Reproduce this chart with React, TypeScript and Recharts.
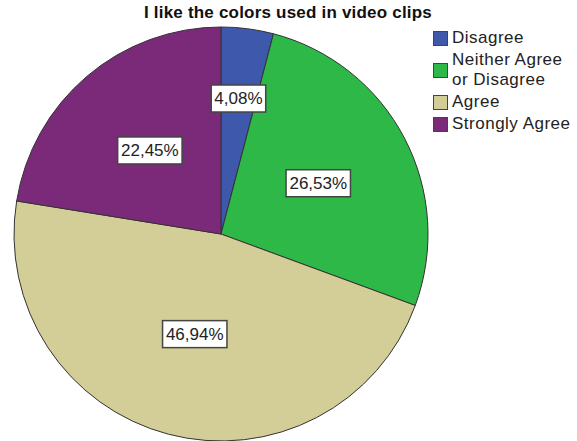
import { PieChart, Pie, Cell, Legend } from "recharts";

const categories = ["Disagree", "Neither Agree\nor Disagree", "Agree", "Strongly Agree"];
const percents = [4.08, 26.53, 46.94, 22.45];
const colors = ["#3e58ac", "#2eb848", "#d3ce97", "#7b2a7a"];

const data = categories.map((name, i) => ({ name, value: percents[i] }));

const RADIAN = Math.PI / 180;
const FONT = "Liberation Sans, Arial, sans-serif";

const renderLabel = (props: any) => {
  const { cx, cy, midAngle, outerRadius, value } = props;
  const f = value < 10 ? 0.66 : value > 40 ? 0.5 : 0.53;
  const r = outerRadius * f;
  const x = cx + r * Math.cos(-midAngle * RADIAN);
  const y = cy + r * Math.sin(-midAngle * RADIAN);
  const text = value.toFixed(2).replace(".", ",") + "%";
  const w = text.length * 9.9 + 5;
  const h = 27;
  return (
    <g>
      <rect x={x - w / 2} y={y - h / 2} width={w} height={h} fill="#fff" stroke="#444" strokeWidth={1.5} />
      <text x={x} y={y + 1} textAnchor="middle" dominantBaseline="middle" fontSize={17} fill="#222" fontFamily={FONT}>
        {text}
      </text>
    </g>
  );
};

const LegendContent = () => (
  <div style={{ fontFamily: FONT, fontSize: 17, color: "#222", letterSpacing: 0.5 }}>
    {categories.map((c, i) => (
      <div key={c} style={{ display: "flex", alignItems: "center", marginBottom: 2, lineHeight: "20px" }}>
        <span style={{ width: 15, height: 15, background: colors[i], border: "1px solid #444", boxSizing: "border-box", marginRight: 4, flexShrink: 0 }} />
        <span style={{ whiteSpace: "pre" }}>{c}</span>
      </div>
    ))}
  </div>
);

export default function App() {
  return (
    <div style={{ position: "absolute", left: 0, top: 0, width: 577, height: 441, background: "#fff", fontFamily: FONT }}>
      <PieChart width={577} height={441} margin={{ top: 0, right: 0, bottom: 0, left: 0 }}>
        <text x={288} y={14} textAnchor="middle" dominantBaseline="middle" fontSize={17} fontWeight="bold" fill="#111" fontFamily={FONT} letterSpacing={0.2}>
          I like the colors used in video clips
        </text>
        <Pie
          data={data}
          dataKey="value"
          cx={221}
          cy={234}
          outerRadius={207}
          startAngle={90}
          endAngle={-270}
          stroke="#333"
          strokeWidth={1}
          label={renderLabel}
          labelLine={false}
          isAnimationActive={false}
        >
          {data.map((d, i) => (
            <Cell key={d.name} fill={colors[i]} />
          ))}
        </Pie>
        <Legend layout="vertical" verticalAlign="top" align="right" content={<LegendContent />} wrapperStyle={{ top: 28, left: 433, width: 144 }} />
      </PieChart>
    </div>
  );
}
